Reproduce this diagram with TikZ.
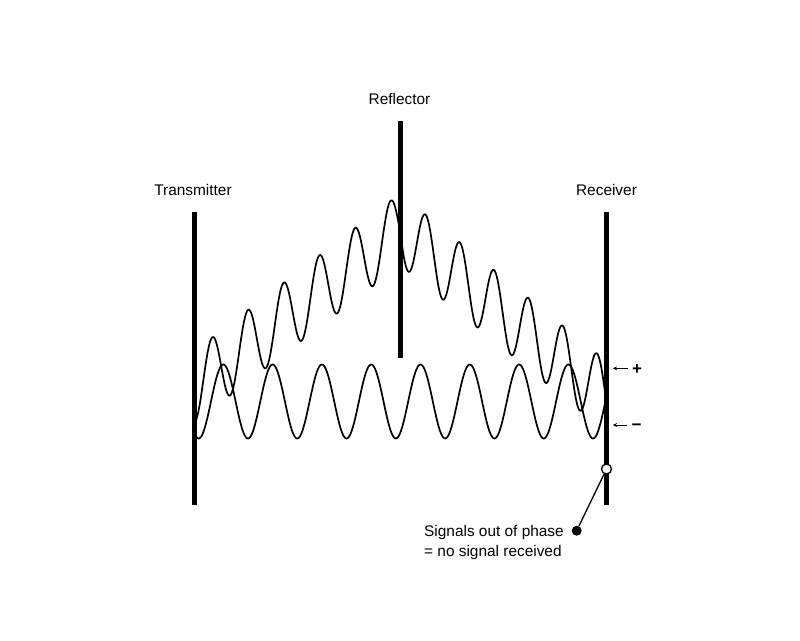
\documentclass[tikz,border=0pt]{standalone}
\usepackage{fontspec}
\setmainfont{Liberation Sans}
\usepackage{tikz}
\usetikzlibrary{calc,positioning,arrows.meta}

\begin{document}
\begin{tikzpicture}[x=1pt,y=-1pt]
  \tikzset{ bar/.style={line width=5pt},
    wave/.style={line width=1.7pt,line join=round},
    lbl/.style={font=\fontsize{15.4}{20}\selectfont,inner sep=0pt},
    sign/.style={font=\fontsize{17}{20}\selectfont\bfseries,inner sep=0pt,anchor=base},
    ptr/.style={line width=0.7pt,-{Stealth[length=4pt,width=4pt]}},
    ring/.style={circle,draw,fill=white,line width=1.3pt,inner sep=0pt,minimum size=10pt},
    dot/.style={circle,fill=black,inner sep=0pt,minimum size=10pt},
  }
  \useasboundingbox[fill=white] (0,0) rectangle (800,640);

  % the direct and the reflected signal
  \draw[wave] plot[domain=195:606,samples=400] (\x,{401.5-37*cos(7.3022*(\x-223.3))});
  \draw[wave] plot[domain=195:400,samples=300] (\x,{373.2-0.766*(\x-212.3)-35.9*cos(10.084*(\x-212.3))})
    -- plot[domain=400:606,samples=300] (\x,{229.4+0.81*(\x-400)-35.5*cos(1892.8+10.496*(\x-400))});

  % the three aerials
  \coordinate (tx top) at (194,211.5);
  \coordinate (tx bot) at (194,505);
  \coordinate (rf top) at (400,121);
  \coordinate (rf bot) at (400,358);
  \coordinate (rx top) at (606.5,211.5);
  \coordinate (rx bot) at (606.5,505);
  \draw[bar] (tx top) -- (tx bot);
  \draw[bar] (rf top) -- (rf bot);
  \draw[bar] (rx top) -- (rx bot);

  \node[lbl,anchor=base] (tx) at (193,195.5) {Transmitter};
  \node[lbl,anchor=base] (rf) at (399.5,104) {Reflector};
  \node[lbl,anchor=base] (rx) at (606.5,195.5) {Receiver};

  % plus and minus at the receiver
  \node[sign] (plus) at (637,374.3) {+};
  \node[sign] (minus) at (636.5,430.2) {−};
  \coordinate (plus tip) at (613,368.3);
  \coordinate (minus tip) at (613,425);
  \draw[ptr] (plus.west |- plus tip) ++(-4,0) -- (plus tip);
  \draw[ptr] (minus.west |- minus tip) ++(-4,0) -- (minus tip);

  % the note
  \node[ring] (null) at (606.5,469) {};
  \node[lbl,align=left,anchor=base west] (note) at (424,556.7) {Signals out of phase\\= no signal received};
  \node[dot] (pin) at (576.7,530.7) {};
  \draw[line width=1.3pt] (null) -- (pin);
\end{tikzpicture}
\end{document}
